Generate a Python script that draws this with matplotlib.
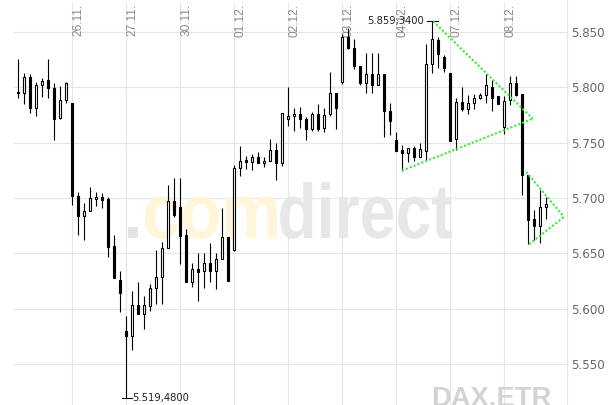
import matplotlib
matplotlib.use("Agg")
import matplotlib.pyplot as plt
from matplotlib.patches import Rectangle, PathPatch
from matplotlib.textpath import TextPath
from matplotlib.font_manager import FontProperties
from matplotlib.transforms import Affine2D, IdentityTransform

# ---------------- data (hourly candles, index = position) ----------------
opens = [5795.5, 5795.0, 5809.5, 5781.4, 5801.6, 5806.1, 5799.5, 5772.0, 5788.6,
         5785.3, 5702.0, 5684.2, 5687.9, 5698.7, 5701.1, 5699.3, 5656.8, 5626.0,
         5579.9, 5575.6, 5603.4, 5595.0, 5602.8, 5618.5, 5628.5, 5654.7, 5697.5,
         5691.8, 5666.7, 5624.5, 5635.7, 5634.2, 5641.2, 5634.5, 5644.8, 5664.7,
         5653.2, 5727.1, 5734.6, 5732.5, 5737.3, 5731.6, 5733.1, 5743.7, 5731.6,
         5771.4, 5773.8, 5776.0, 5771.7, 5762.4, 5776.0, 5763.3, 5775.4, 5794.3,
         5804.6, 5845.3, 5835.0, 5819.1, 5804.0, 5812.2, 5801.9, 5812.2, 5778.3,
         5752.7, 5743.7, 5740.7, 5745.2, 5736.7, 5742.8, 5821.2, 5842.3, 5827.2,
         5812.4, 5753.6, 5786.8, 5779.9, 5785.3, 5790.5, 5792.5, 5800.4, 5791.9,
         5764.2, 5788.0, 5804.0, 5793.4, 5721.0, 5681.2, 5675.2, 5691.8]
highs = [5825.7, 5813.1, 5811.5, 5804.9, 5808.6, 5825.7, 5803.4, 5800.7, 5804.6,
         5785.3, 5705.7, 5695.4, 5709.5, 5705.7, 5704.5, 5700.5, 5666.7, 5634.2,
         5593.4, 5616.1, 5624.2, 5611.8, 5622.1, 5653.2, 5660.1, 5711.4, 5718.0,
         5718.0, 5672.2, 5641.2, 5650.2, 5650.2, 5659.2, 5650.2, 5690.9, 5664.7,
         5730.1, 5747.3, 5738.2, 5740.0, 5741.6, 5736.7, 5753.6, 5749.7, 5776.9,
         5800.4, 5780.8, 5782.4, 5773.3, 5777.8, 5784.4, 5780.8, 5813.6, 5794.3,
         5847.7, 5852.9, 5843.8, 5819.1, 5831.2, 5831.2, 5831.2, 5812.2, 5785.9,
         5759.7, 5747.6, 5745.2, 5746.7, 5749.7, 5838.7, 5859.34, 5844.8, 5829.0,
         5812.4, 5789.8, 5800.0, 5792.5, 5793.4, 5794.3, 5811.5, 5806.1, 5791.9,
         5791.9, 5810.0, 5810.0, 5793.4, 5721.0, 5689.4, 5707.3, 5700.9]
lows = [5790.4, 5785.0, 5776.9, 5773.8, 5791.0, 5789.8, 5752.7, 5771.5, 5785.9,
        5693.9, 5666.7, 5662.2, 5687.9, 5692.4, 5690.9, 5647.1, 5628.1, 5597.3,
        5519.48, 5563.3, 5595.0, 5581.4, 5598.2, 5604.3, 5604.3, 5654.7, 5683.3,
        5640.5, 5624.5, 5619.4, 5607.3, 5618.5, 5624.5, 5617.6, 5644.8, 5625.4,
        5652.5, 5719.5, 5726.5, 5724.9, 5731.6, 5727.6, 5733.1, 5715.8, 5728.5,
        5764.8, 5760.2, 5763.3, 5752.1, 5760.2, 5760.2, 5759.3, 5773.8, 5762.4,
        5802.5, 5834.2, 5816.1, 5801.9, 5795.0, 5794.3, 5801.9, 5754.8, 5756.6,
        5742.8, 5724.7, 5732.5, 5733.7, 5736.7, 5733.1, 5813.1, 5817.0, 5813.3,
        5751.8, 5743.7, 5778.3, 5776.2, 5780.5, 5788.9, 5785.3, 5778.3, 5784.4,
        5757.9, 5783.8, 5791.9, 5702.9, 5658.3, 5662.2, 5659.2, 5681.2]
closes = [5794.5, 5809.5, 5781.0, 5801.6, 5805.5, 5799.5, 5771.7, 5788.6, 5803.4,
          5701.4, 5684.2, 5688.2, 5700.0, 5701.1, 5697.8, 5656.2, 5628.1, 5614.0,
          5575.6, 5603.4, 5595.0, 5603.4, 5618.5, 5628.5, 5654.7, 5697.5, 5684.8,
          5666.1, 5624.5, 5635.7, 5633.5, 5641.2, 5634.2, 5644.8, 5664.7, 5625.4,
          5727.1, 5733.1, 5732.2, 5737.3, 5731.6, 5733.4, 5743.7, 5731.6, 5776.9,
          5773.8, 5776.0, 5771.4, 5762.4, 5776.0, 5761.8, 5774.7, 5795.0, 5781.4,
          5844.8, 5835.7, 5819.5, 5803.4, 5812.2, 5801.9, 5812.2, 5778.3, 5769.9,
          5742.8, 5740.7, 5745.2, 5736.7, 5744.3, 5820.6, 5843.2, 5830.3, 5817.0,
          5751.8, 5786.8, 5779.9, 5785.9, 5790.5, 5792.5, 5801.6, 5790.5, 5785.0,
          5787.4, 5804.0, 5792.8, 5720.4, 5680.3, 5675.2, 5691.8, 5694.5]

day_start_idx = [9, 18, 27, 36, 45, 54, 63, 72, 81]
day_labels = ["26.11.", "27.11.", "30.11.", "01.12.", "02.12.",
              "03.12.", "04.12.", "07.12.", "08.12."]

ytick_vals = [5550, 5600, 5650, 5700, 5750, 5800, 5850]
ytick_labels = ["5.550", "5.600", "5.650", "5.700", "5.750", "5.800", "5.850"]

# trend lines (triangles): (index, value) pairs
tri1_upper_x = [69.2, 85.8]
tri1_upper_y = [5859.34, 5771.5]
tri1_lower_x = [64.0, 85.8]
tri1_lower_y = [5724.7, 5771.5]
tri2_upper_x = [84.7, 91.0]
tri2_upper_y = [5723.5, 5682.9]
tri2_lower_x = [85.2, 91.0]
tri2_lower_y = [5658.3, 5682.9]

# ---------------- figure ----------------
W, H = 614, 405
fig = plt.figure(figsize=(W / 100, H / 100), dpi=100)
ax = fig.add_axes([13 / W, 0, 554 / W, 1])
xmin = -5 / 6
ax.set_xlim(xmin, xmin + 554 / 6)
ax.set_ylim(5513.3, 5878.6)

grid_c = "#e6e6e6"
for s in ["top", "left", "bottom"]:
    ax.spines[s].set_visible(False)
ax.spines["right"].set_color(grid_c)
ax.spines["right"].set_linewidth(0.8)

for v in ytick_vals:
    ax.axhline(v, color=grid_c, lw=0.8, zorder=0.5)
for d in day_start_idx:
    ax.axvline(d, ymin=0, ymax=1 - 3 / H, color=grid_c, lw=0.8, zorder=0.5)

ax.set_xticks([])
ax.yaxis.tick_right()
ax.set_yticks(ytick_vals)
ax.set_yticklabels(ytick_labels)
ax.tick_params(axis="y", length=0, pad=2.7, labelsize=8.6, labelcolor="#666666")

# date labels at top
for d, lab in zip(day_start_idx, day_labels):
    ax.text(d + 0.05, 1 - 4 / H, lab, rotation=90, ha="left", va="top",
            fontsize=8.6, color="#888888", family="Liberation Sans",
            transform=ax.get_xaxis_transform(), zorder=1)

# watermark
fp = FontProperties(family="Liberation Sans", weight="bold")
em = 77.0
base = H - 238


def wm_path(txt, x0, sx):
    tp = TextPath((0, 0), txt, size=1, prop=fp)
    ext = tp.get_extents()
    tr = Affine2D().translate(-ext.x0, 0).scale(sx, em).translate(x0, base)
    return tr.transform_path(tp), ext


tp_com = TextPath((0, 0), "com", size=1, prop=fp)
sx_com = (277 - 145) / tp_com.get_extents().width
tp_dir = TextPath((0, 0), "direct", size=1, prop=fp)
sx_dir = (452 - 280) / tp_dir.get_extents().width
for txt, x0, sx, col in [(".", 128, sx_com, "#e4e4e4"),
                         ("com", 145, sx_com, "#fff5d9"),
                         ("direct", 280, sx_dir, "#e6e7e7")]:
    p, _ = wm_path(txt, x0, sx)
    patch = PathPatch(p, fc=col, ec="none", zorder=0.8)
    patch.set_transform(IdentityTransform())
    ax.add_artist(patch)

fig.text(431 / W, -1.5 / H, "DAX.ETR", fontsize=19.7, weight="bold",
         color="#d3d3d3", family="Liberation Sans", ha="left", va="baseline")

# candles
bw = 0.4
for i, (o, h, l, c) in enumerate(zip(opens, highs, lows, closes)):
    ax.vlines(i, l, h, color="black", lw=0.8, zorder=2)
    bot = min(o, c)
    ht = max(abs(c - o), 0.9)
    fc = "white" if c >= o else "black"
    ax.add_patch(Rectangle((i - bw / 2, bot), bw, ht, fc=fc, ec="black",
                           lw=0.8, zorder=3))

# trend triangles
green = "#33ee33"
for xs, ys in [(tri1_upper_x, tri1_upper_y), (tri1_lower_x, tri1_lower_y),
               (tri2_upper_x, tri2_upper_y), (tri2_lower_x, tri2_lower_y)]:
    ax.plot(xs, ys, color=green, lw=1.5, linestyle=(0, (1, 1)), zorder=4)


def de_fmt(v):
    s = f"{v:,.4f}"
    return s.replace(",", "X").replace(".", ",").replace("X", ".")


# high / low annotations
hi_i = max(range(len(highs)), key=lambda k: highs[k])
lo_i = min(range(len(lows)), key=lambda k: lows[k])
hv, lv = highs[hi_i], lows[lo_i]
ax.plot([hi_i - 0.78, hi_i + 0.95], [hv, hv], color="black", lw=0.8, zorder=3)
ax.text(hi_i - 0.78 - 0.55, hv, de_fmt(hv), ha="right", va="center",
        fontsize=7.2, color="#222222", zorder=5)
ax.plot([lo_i - 0.72, lo_i + 0.95], [lv, lv], color="black", lw=0.8, zorder=3)
ax.text(lo_i + 1.05, lv, de_fmt(lv), ha="left", va="center",
        fontsize=7.2, color="#222222", zorder=5)

fig.savefig("out.png", dpi=100)
